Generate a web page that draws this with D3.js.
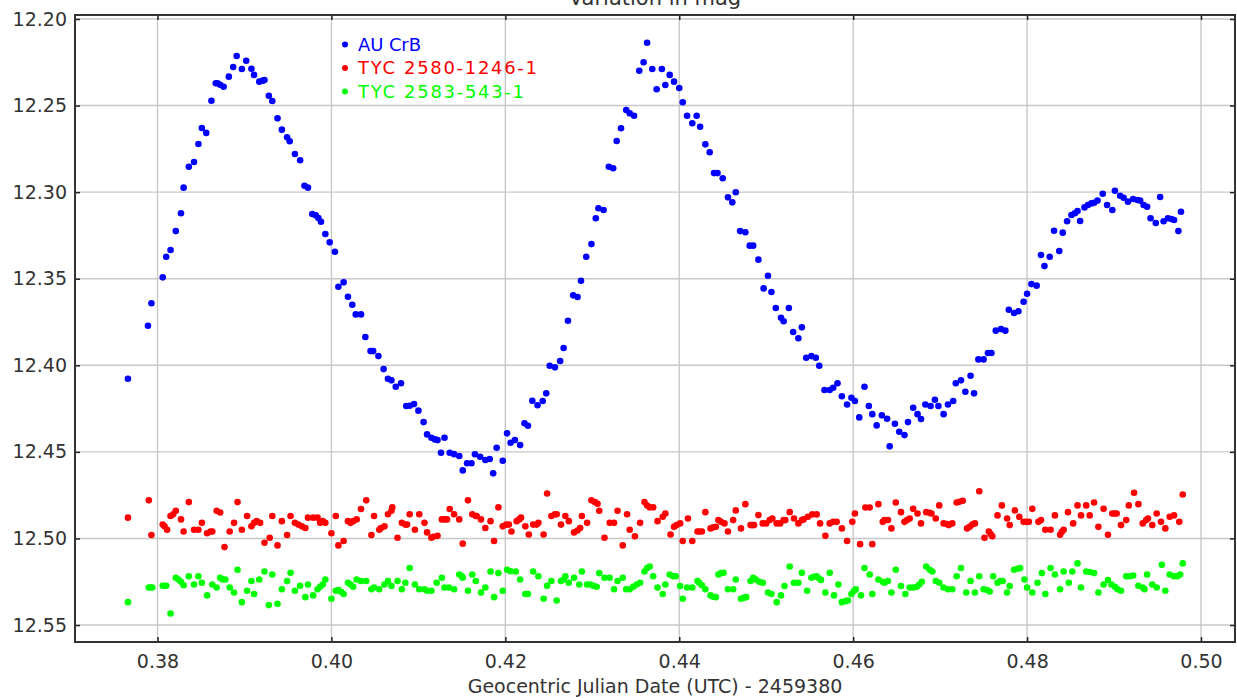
<!DOCTYPE html>
<html><head><meta charset="utf-8">
<script src="https://cdn.jsdelivr.net/npm/d3@7/dist/d3.min.js"></script>
<style>html,body{margin:0;padding:0;background:#fff;}svg{display:block;}</style>
</head><body>
<script>
const title = "Variation in mag";
const xLabel = "Geocentric Julian Date (UTC) - 2459380";
const seriesNames = ["AU CrB", "TYC 2580-1246-1", "TYC 2583-543-1"];
const xTicks = [0.38, 0.40, 0.42, 0.44, 0.46, 0.48, 0.50];
const yTicks = [12.20, 12.25, 12.30, 12.35, 12.40, 12.45, 12.50, 12.55];

// [time, mag]
const auCrB = [[0.3766,12.4078],[0.3789,12.3772],[0.3793,12.3642],[0.3806,12.3492],[0.3810,12.3373],[0.3815,12.3334],[0.3821,12.3225],[0.3827,12.3122],[0.3830,12.2974],[0.3836,12.2853],[0.3842,12.2826],[0.3847,12.2722],[0.3851,12.2630],[0.3856,12.2658],[0.3862,12.2472],[0.3867,12.2371],[0.3869,12.2371],[0.3872,12.2380],[0.3876,12.2391],[0.3882,12.2333],[0.3887,12.2277],[0.3891,12.2214],[0.3897,12.2289],[0.3902,12.2241],[0.3908,12.2287],[0.3911,12.2323],[0.3917,12.2362],[0.3921,12.2356],[0.3923,12.2352],[0.3928,12.2443],[0.3932,12.2474],[0.3938,12.2574],[0.3943,12.2639],[0.3949,12.2683],[0.3952,12.2706],[0.3958,12.2780],[0.3964,12.2816],[0.3969,12.2963],[0.3973,12.2974],[0.3978,12.3126],[0.3982,12.3134],[0.3985,12.3149],[0.3988,12.3171],[0.3993,12.3242],[0.3998,12.3290],[0.4004,12.3344],[0.4008,12.3546],[0.4014,12.3521],[0.4019,12.3604],[0.4024,12.3650],[0.4028,12.3706],[0.4034,12.3706],[0.4039,12.3837],[0.4045,12.3918],[0.4048,12.3918],[0.4054,12.3947],[0.4060,12.4022],[0.4065,12.4078],[0.4069,12.4087],[0.4074,12.4124],[0.4080,12.4104],[0.4086,12.4235],[0.4090,12.4234],[0.4095,12.4224],[0.4100,12.4262],[0.4106,12.4328],[0.4110,12.4399],[0.4115,12.4418],[0.4119,12.4428],[0.4122,12.4432],[0.4126,12.4505],[0.4130,12.4418],[0.4136,12.4505],[0.4141,12.4513],[0.4147,12.4524],[0.4151,12.4607],[0.4156,12.4566],[0.4161,12.4566],[0.4165,12.4514],[0.4171,12.4528],[0.4177,12.4547],[0.4182,12.4541],[0.4186,12.4624],[0.4190,12.4476],[0.4197,12.4551],[0.4202,12.4393],[0.4206,12.4447],[0.4211,12.4432],[0.4217,12.4461],[0.4222,12.4335],[0.4226,12.4349],[0.4231,12.4205],[0.4237,12.4231],[0.4243,12.4206],[0.4247,12.4162],[0.4251,12.4003],[0.4257,12.4012],[0.4263,12.3975],[0.4267,12.3900],[0.4272,12.3743],[0.4278,12.3596],[0.4283,12.3606],[0.4287,12.3512],[0.4293,12.3373],[0.4299,12.3300],[0.4304,12.3151],[0.4307,12.3093],[0.4313,12.3103],[0.4319,12.2853],[0.4324,12.2862],[0.4328,12.2705],[0.4333,12.2631],[0.4339,12.2526],[0.4343,12.2545],[0.4348,12.2559],[0.4354,12.2299],[0.4359,12.2250],[0.4363,12.2137],[0.4369,12.2289],[0.4374,12.2406],[0.4380,12.2289],[0.4384,12.2381],[0.4389,12.2323],[0.4394,12.2362],[0.4400,12.2399],[0.4404,12.2481],[0.4409,12.2559],[0.4415,12.2602],[0.4420,12.2559],[0.4424,12.2622],[0.4430,12.2724],[0.4435,12.2770],[0.4440,12.2890],[0.4444,12.2890],[0.4450,12.2920],[0.4456,12.3030],[0.4461,12.3059],[0.4465,12.3001],[0.4470,12.3225],[0.4476,12.3232],[0.4481,12.3309],[0.4485,12.3309],[0.4491,12.3390],[0.4497,12.3556],[0.4502,12.3483],[0.4506,12.3577],[0.4511,12.3669],[0.4517,12.3725],[0.4520,12.3746],[0.4526,12.3669],[0.4531,12.3808],[0.4537,12.3844],[0.4541,12.3781],[0.4546,12.3956],[0.4552,12.3947],[0.4557,12.3956],[0.4561,12.4003],[0.4567,12.4143],[0.4573,12.4143],[0.4577,12.4130],[0.4582,12.4104],[0.4587,12.4179],[0.4593,12.4226],[0.4598,12.4187],[0.4602,12.4206],[0.4607,12.4301],[0.4613,12.4124],[0.4618,12.4235],[0.4622,12.4282],[0.4627,12.4347],[0.4633,12.4289],[0.4639,12.4309],[0.4642,12.4468],[0.4648,12.4338],[0.4653,12.4384],[0.4659,12.4403],[0.4663,12.4328],[0.4669,12.4245],[0.4674,12.4282],[0.4678,12.4310],[0.4683,12.4226],[0.4689,12.4235],[0.4694,12.4199],[0.4698,12.4235],[0.4704,12.4282],[0.4709,12.4226],[0.4715,12.4206],[0.4718,12.4104],[0.4724,12.4087],[0.4729,12.4153],[0.4735,12.4060],[0.4739,12.4162],[0.4744,12.3966],[0.4750,12.3966],[0.4755,12.3929],[0.4759,12.3929],[0.4764,12.3800],[0.4770,12.3791],[0.4775,12.3800],[0.4779,12.3679],[0.4785,12.3698],[0.4790,12.3688],[0.4796,12.3633],[0.4800,12.3587],[0.4805,12.3531],[0.4811,12.3540],[0.4816,12.3363],[0.4820,12.3427],[0.4826,12.3373],[0.4831,12.3223],[0.4837,12.3340],[0.4841,12.3234],[0.4846,12.3168],[0.4851,12.3132],[0.4855,12.3122],[0.4858,12.3109],[0.4861,12.3167],[0.4866,12.3088],[0.4870,12.3074],[0.4874,12.3065],[0.4877,12.3061],[0.4881,12.3049],[0.4887,12.3009],[0.4892,12.3074],[0.4898,12.3103],[0.4901,12.2992],[0.4907,12.3021],[0.4911,12.3032],[0.4916,12.3055],[0.4922,12.3040],[0.4927,12.3045],[0.4930,12.3049],[0.4934,12.3074],[0.4938,12.3084],[0.4942,12.3151],[0.4948,12.3178],[0.4953,12.3028],[0.4957,12.3168],[0.4962,12.3151],[0.4966,12.3155],[0.4969,12.3161],[0.4974,12.3225],[0.4977,12.3113]];

const tyc2580 = [[0.3766,12.488],[0.3790,12.478],[0.3793,12.498],[0.3806,12.492],[0.3808,12.493],[0.3811,12.495],[0.3815,12.487],[0.3818,12.486],[0.3821,12.484],[0.3827,12.489],[0.3830,12.496],[0.3836,12.479],[0.3842,12.495],[0.3847,12.495],[0.3851,12.491],[0.3857,12.497],[0.3861,12.496],[0.3863,12.496],[0.3868,12.484],[0.3872,12.485],[0.3877,12.505],[0.3883,12.496],[0.3888,12.491],[0.3892,12.479],[0.3897,12.495],[0.3903,12.487],[0.3908,12.493],[0.3911,12.491],[0.3914,12.490],[0.3918,12.491],[0.3923,12.5025],[0.3929,12.4996],[0.3932,12.487],[0.3938,12.504],[0.3943,12.490],[0.3949,12.498],[0.3953,12.487],[0.3958,12.491],[0.3962,12.492],[0.3966,12.493],[0.3970,12.494],[0.3973,12.488],[0.3979,12.488],[0.3984,12.488],[0.3987,12.491],[0.3990,12.490],[0.3993,12.491],[0.4000,12.497],[0.4005,12.487],[0.4008,12.504],[0.4014,12.5015],[0.4019,12.490],[0.4022,12.491],[0.4025,12.490],[0.4029,12.489],[0.4034,12.483],[0.4040,12.478],[0.4046,12.498],[0.4049,12.487],[0.4055,12.495],[0.4057,12.494],[0.4061,12.493],[0.4065,12.486],[0.4069,12.484],[0.4070,12.482],[0.4076,12.4996],[0.4081,12.491],[0.4085,12.492],[0.4087,12.492],[0.4090,12.486],[0.4096,12.495],[0.4101,12.486],[0.4107,12.491],[0.4110,12.4965],[0.4115,12.4996],[0.4117,12.499],[0.4122,12.4985],[0.4127,12.489],[0.4130,12.489],[0.4133,12.489],[0.4136,12.483],[0.4141,12.486],[0.4147,12.489],[0.4151,12.503],[0.4157,12.478],[0.4162,12.486],[0.4166,12.487],[0.4167,12.487],[0.4172,12.489],[0.4177,12.494],[0.4183,12.490],[0.4187,12.5015],[0.4192,12.482],[0.4197,12.493],[0.4201,12.492],[0.4204,12.492],[0.4207,12.496],[0.4213,12.490],[0.4216,12.489],[0.4218,12.488],[0.4223,12.493],[0.4227,12.4977],[0.4232,12.492],[0.4236,12.492],[0.4238,12.491],[0.4244,12.4977],[0.4248,12.474],[0.4253,12.487],[0.4257,12.486],[0.4259,12.486],[0.4264,12.492],[0.4269,12.487],[0.4273,12.490],[0.4279,12.4965],[0.4283,12.4954],[0.4286,12.494],[0.4288,12.487],[0.4294,12.491],[0.4299,12.478],[0.4303,12.479],[0.4306,12.480],[0.4308,12.484],[0.4314,12.4996],[0.4320,12.491],[0.4325,12.491],[0.4329,12.484],[0.4335,12.504],[0.4340,12.486],[0.4343,12.495],[0.4349,12.4988],[0.4355,12.491],[0.4360,12.479],[0.4363,12.481],[0.4366,12.482],[0.4370,12.482],[0.4375,12.490],[0.4381,12.4875],[0.4384,12.4856],[0.4390,12.4977],[0.4394,12.4933],[0.4397,12.4923],[0.4401,12.4913],[0.4404,12.5015],[0.4410,12.4885],[0.4415,12.5015],[0.4421,12.496],[0.4423,12.496],[0.4426,12.496],[0.4430,12.4848],[0.4436,12.4942],[0.4439,12.4936],[0.4442,12.4933],[0.4445,12.4894],[0.4448,12.4904],[0.4452,12.4913],[0.4456,12.496],[0.4462,12.4894],[0.4465,12.4838],[0.4471,12.4942],[0.4476,12.4802],[0.4482,12.4923],[0.4484,12.4923],[0.4486,12.4923],[0.4491,12.4865],[0.4496,12.4913],[0.4500,12.4913],[0.4504,12.4894],[0.4507,12.4885],[0.4512,12.4913],[0.4516,12.4913],[0.4520,12.4894],[0.4522,12.4894],[0.4527,12.4848],[0.4532,12.4885],[0.4537,12.4913],[0.4541,12.4894],[0.4543,12.489],[0.4548,12.4875],[0.4553,12.4861],[0.4558,12.4861],[0.4562,12.4913],[0.4568,12.4985],[0.4573,12.4913],[0.4577,12.4904],[0.4581,12.4904],[0.4587,12.4942],[0.4593,12.5015],[0.4599,12.4904],[0.4602,12.4856],[0.4608,12.5033],[0.4614,12.4821],[0.4619,12.4821],[0.4622,12.5033],[0.4629,12.4802],[0.4634,12.4904],[0.4636,12.4894],[0.4640,12.4894],[0.4644,12.4942],[0.4649,12.4792],[0.4655,12.4848],[0.4659,12.4904],[0.4662,12.4894],[0.4665,12.4885],[0.4669,12.4829],[0.4674,12.4856],[0.4678,12.4913],[0.4684,12.4848],[0.4688,12.4852],[0.4690,12.4856],[0.4695,12.4885],[0.4699,12.4809],[0.4704,12.4913],[0.4708,12.4917],[0.4710,12.4923],[0.4714,12.4913],[0.4719,12.4792],[0.4722,12.4788],[0.4726,12.4782],[0.4731,12.4942],[0.4734,12.4933],[0.4737,12.4919],[0.4740,12.4913],[0.4745,12.4727],[0.4751,12.4996],[0.4756,12.496],[0.4758,12.4975],[0.4760,12.4988],[0.4766,12.4867],[0.4771,12.4809],[0.4777,12.4885],[0.4780,12.4923],[0.4786,12.4838],[0.4791,12.4875],[0.4796,12.4904],[0.4799,12.4904],[0.4802,12.4904],[0.4806,12.4829],[0.4813,12.4904],[0.4816,12.4894],[0.4821,12.495],[0.4827,12.495],[0.4832,12.4867],[0.4838,12.4979],[0.4840,12.4962],[0.4842,12.495],[0.4847,12.4848],[0.4853,12.4913],[0.4858,12.4809],[0.4862,12.4867],[0.4868,12.4809],[0.4872,12.4867],[0.4877,12.4792],[0.4882,12.4933],[0.4888,12.4829],[0.4893,12.4979],[0.4898,12.4856],[0.4901,12.4856],[0.4903,12.4856],[0.4908,12.4923],[0.4914,12.4894],[0.4917,12.4809],[0.4923,12.4736],[0.4928,12.4802],[0.4933,12.4913],[0.4937,12.4894],[0.4939,12.4885],[0.4944,12.4923],[0.4949,12.4856],[0.4954,12.4904],[0.4959,12.4942],[0.4964,12.4875],[0.4969,12.4867],[0.4975,12.4904],[0.4979,12.4746]];

const tyc2583 = [[0.3766,12.5368],[0.3790,12.5283],[0.3792,12.5283],[0.3794,12.5283],[0.3806,12.5273],[0.3808,12.5273],[0.3810,12.5273],[0.3815,12.5433],[0.3821,12.5227],[0.3824,12.5237],[0.3827,12.525],[0.3830,12.527],[0.3836,12.5218],[0.3842,12.5266],[0.3847,12.5218],[0.3851,12.5256],[0.3857,12.5329],[0.3863,12.5266],[0.3868,12.5283],[0.3872,12.5227],[0.3875,12.5237],[0.3878,12.5237],[0.3883,12.5283],[0.3888,12.5312],[0.3892,12.5181],[0.3897,12.5368],[0.3903,12.5302],[0.3908,12.5246],[0.3911,12.5321],[0.3917,12.5237],[0.3923,12.5191],[0.3928,12.5385],[0.3932,12.5208],[0.3938,12.5377],[0.3943,12.5293],[0.3949,12.5246],[0.3953,12.5198],[0.3958,12.5302],[0.3964,12.5273],[0.3970,12.5339],[0.3973,12.5266],[0.3979,12.5329],[0.3984,12.5293],[0.3987,12.5279],[0.3990,12.5266],[0.3993,12.5237],[0.4000,12.5348],[0.4005,12.5302],[0.4008,12.5298],[0.4011,12.5308],[0.4014,12.5321],[0.4019,12.5256],[0.4022,12.5266],[0.4025,12.5279],[0.4029,12.5237],[0.4034,12.5246],[0.4040,12.5246],[0.4046,12.5293],[0.4049,12.5283],[0.4055,12.5293],[0.4061,12.5266],[0.4065,12.5246],[0.4069,12.5275],[0.4076,12.5246],[0.4081,12.5293],[0.4085,12.5256],[0.4090,12.5171],[0.4096,12.5266],[0.4101,12.5293],[0.4107,12.5293],[0.4110,12.5302],[0.4115,12.5302],[0.4121,12.5256],[0.4127,12.5227],[0.4130,12.5283],[0.4135,12.5283],[0.4141,12.5293],[0.4147,12.5208],[0.4150,12.5218],[0.4151,12.5227],[0.4157,12.5302],[0.4162,12.5208],[0.4166,12.5246],[0.4172,12.5312],[0.4177,12.5283],[0.4183,12.5191],[0.4187,12.5339],[0.4192,12.52],[0.4197,12.5302],[0.4202,12.5181],[0.4206,12.5189],[0.4212,12.5191],[0.4217,12.5237],[0.4223,12.5321],[0.4226,12.5321],[0.4232,12.5191],[0.4238,12.5218],[0.4244,12.5348],[0.4248,12.5273],[0.4253,12.5246],[0.4259,12.5358],[0.4264,12.5246],[0.4267,12.5237],[0.4269,12.5218],[0.4273,12.5256],[0.4279,12.5227],[0.4285,12.5266],[0.4288,12.5191],[0.4294,12.5266],[0.4298,12.5266],[0.4301,12.5273],[0.4305,12.5279],[0.4308,12.52],[0.4314,12.5227],[0.4320,12.5227],[0.4325,12.5293],[0.4329,12.5246],[0.4335,12.5227],[0.4339,12.5293],[0.4343,12.5293],[0.4347,12.5279],[0.4351,12.5266],[0.4355,12.5256],[0.4360,12.5191],[0.4363,12.5171],[0.4366,12.5162],[0.4370,12.5218],[0.4375,12.5283],[0.4381,12.5321],[0.4384,12.5266],[0.4389,12.5208],[0.4393,12.5218],[0.4396,12.5218],[0.4401,12.5275],[0.4404,12.5348],[0.4409,12.5283],[0.4415,12.5283],[0.4421,12.5246],[0.4423,12.5256],[0.4426,12.527],[0.4430,12.5293],[0.4436,12.5329],[0.4439,12.5337],[0.4442,12.5339],[0.4445,12.5208],[0.4448,12.52],[0.4451,12.5198],[0.4456,12.5293],[0.4462,12.5293],[0.4465,12.5237],[0.4471,12.5348],[0.4474,12.5343],[0.4477,12.5339],[0.4482,12.5246],[0.4485,12.5227],[0.4488,12.5237],[0.4492,12.525],[0.4496,12.5256],[0.4502,12.5312],[0.4506,12.5321],[0.4512,12.5368],[0.4517,12.5329],[0.4521,12.5275],[0.4527,12.5162],[0.4532,12.5256],[0.4537,12.5256],[0.4541,12.5198],[0.4547,12.5302],[0.4552,12.5227],[0.4555,12.5221],[0.4558,12.5218],[0.4561,12.5231],[0.4563,12.524],[0.4568,12.5312],[0.4573,12.5198],[0.4578,12.5329],[0.4583,12.5266],[0.4587,12.5368],[0.4591,12.5362],[0.4594,12.5358],[0.4598,12.5321],[0.4601,12.5302],[0.4603,12.5293],[0.4609,12.5329],[0.4613,12.5171],[0.4619,12.5208],[0.4622,12.5321],[0.4629,12.5237],[0.4634,12.525],[0.4636,12.5256],[0.4640,12.5246],[0.4644,12.5312],[0.4649,12.5181],[0.4655,12.5275],[0.4660,12.5321],[0.4665,12.5283],[0.4669,12.5283],[0.4673,12.5279],[0.4676,12.5266],[0.4679,12.525],[0.4684,12.5162],[0.4688,12.5181],[0.4691,12.5191],[0.4695,12.5246],[0.4699,12.5256],[0.4704,12.5283],[0.4709,12.5293],[0.4714,12.5293],[0.4719,12.5218],[0.4724,12.5171],[0.4730,12.5312],[0.4735,12.5246],[0.4740,12.5312],[0.4745,12.5218],[0.4750,12.5293],[0.4754,12.5298],[0.4757,12.5306],[0.4761,12.5218],[0.4766,12.5256],[0.4769,12.5246],[0.4772,12.5246],[0.4777,12.5312],[0.4780,12.5275],[0.4785,12.5181],[0.4789,12.5175],[0.4792,12.5171],[0.4797,12.5237],[0.4800,12.5283],[0.4806,12.5312],[0.4812,12.5256],[0.4817,12.52],[0.4821,12.5321],[0.4827,12.5171],[0.4832,12.5208],[0.4838,12.5293],[0.4842,12.5191],[0.4848,12.5256],[0.4852,12.5191],[0.4858,12.5144],[0.4862,12.5283],[0.4868,12.5191],[0.4872,12.5194],[0.4877,12.52],[0.4882,12.5312],[0.4888,12.5266],[0.4893,12.524],[0.4897,12.5266],[0.4901,12.5279],[0.4904,12.5293],[0.4908,12.5302],[0.4914,12.5218],[0.4918,12.5218],[0.4922,12.5214],[0.4928,12.5273],[0.4933,12.5283],[0.4935,12.5293],[0.4938,12.5208],[0.4944,12.5266],[0.4949,12.5283],[0.4955,12.5152],[0.4959,12.5302],[0.4964,12.5208],[0.4969,12.5218],[0.4973,12.5218],[0.4976,12.5208],[0.4979,12.5144]];

const colors = ["#0000ff", "#ff0000", "#00ff00"];
const series = [auCrB, tyc2580, tyc2583];
const legendTextWidths = [63, 179, 166];

const W = 1237, H = 698;
const plot = {left: 75, top: 15, right: 1235, bottom: 642};
const font = "'DejaVu Sans', Verdana, sans-serif";

const x = d3.scaleLinear().domain([0.37051, 0.50391]).range([plot.left, plot.right]);
const y = d3.scaleLinear().domain([12.1977, 12.5598]).range([plot.top, plot.bottom]);

const svg = d3.select("body").append("svg").attr("width", W).attr("height", H);

// gridlines
const grid = svg.append("g");
grid.selectAll(".gx").data(xTicks).join("line")
  .attr("x1", d => x(d)).attr("x2", d => x(d))
  .attr("y1", plot.top).attr("y2", plot.bottom)
  .attr("stroke", "#c8c8c8").attr("stroke-width", 1.4);
grid.selectAll(".gy").data(yTicks).join("line")
  .attr("y1", d => y(d)).attr("y2", d => y(d))
  .attr("x1", plot.left).attr("x2", plot.right)
  .attr("stroke", "#c8c8c8").attr("stroke-width", 1.4);

// points
svg.append("clipPath").attr("id", "clip").append("rect")
  .attr("x", plot.left).attr("y", plot.top)
  .attr("width", plot.right - plot.left).attr("height", plot.bottom - plot.top);
const pts = svg.append("g").attr("clip-path", "url(#clip)");
[2, 1, 0].forEach(i => {
  pts.append("g").selectAll("circle").data(series[i]).join("circle")
    .attr("cx", d => x(d[0])).attr("cy", d => y(d[1]))
    .attr("r", 3.3).attr("fill", colors[i]);
});

// axes with inside ticks
const axB = svg.append("g").attr("transform", `translate(0,${plot.bottom})`)
  .call(d3.axisBottom(x).tickValues(xTicks).tickFormat(d3.format(".2f")).tickSizeInner(-5).tickSizeOuter(0).tickPadding(13));
const axT = svg.append("g").attr("transform", `translate(0,${plot.top})`)
  .call(d3.axisTop(x).tickValues(xTicks).tickFormat("").tickSizeInner(-5).tickSizeOuter(0));
const axL = svg.append("g").attr("transform", `translate(${plot.left},0)`)
  .call(d3.axisLeft(y).tickValues(yTicks).tickFormat(d3.format(".2f")).tickSizeInner(-5).tickSizeOuter(0).tickPadding(8));
const axR = svg.append("g").attr("transform", `translate(${plot.right},0)`)
  .call(d3.axisRight(y).tickValues(yTicks).tickFormat("").tickSizeInner(-5).tickSizeOuter(0));
[axB, axT, axL, axR].forEach(a => {
  a.select(".domain").remove();
  a.selectAll(".tick line").attr("stroke", "#222").attr("stroke-width", 1.5);
  a.selectAll(".tick text").attr("fill", "#333").style("font-family", font).style("font-size", "19px");
});
axB.selectAll(".tick text").attr("dy", "0.71em");

// frame
svg.append("rect").attr("x", plot.left).attr("y", plot.top)
  .attr("width", plot.right - plot.left).attr("height", plot.bottom - plot.top)
  .attr("fill", "none").attr("stroke", "#333").attr("stroke-width", 2);

// title (partly cut off at top, as in the original)
svg.append("text").attr("x", (plot.left + plot.right) / 2).attr("y", 5)
  .attr("text-anchor", "middle").attr("fill", "#333")
  .style("font-family", font).style("font-size", "21px").text(title);

// x label
svg.append("text").attr("x", (plot.left + plot.right) / 2).attr("y", 693)
  .attr("text-anchor", "middle").attr("fill", "#333")
  .style("font-family", font).style("font-size", "19px").text(xLabel);

// legend
const leg = svg.append("g");
seriesNames.forEach((name, i) => {
  const cy = 44.5 + i * 23.5;
  leg.append("circle").attr("cx", 345).attr("cy", cy).attr("r", 3).attr("fill", colors[i]);
  leg.append("text").attr("x", 358).attr("y", cy).attr("dy", "0.36em")
    .attr("textLength", legendTextWidths[i]).attr("lengthAdjust", "spacing")
    .attr("fill", colors[i]).style("font-family", font).style("font-size", "18px").text(name);
});
</script>
</body></html>
